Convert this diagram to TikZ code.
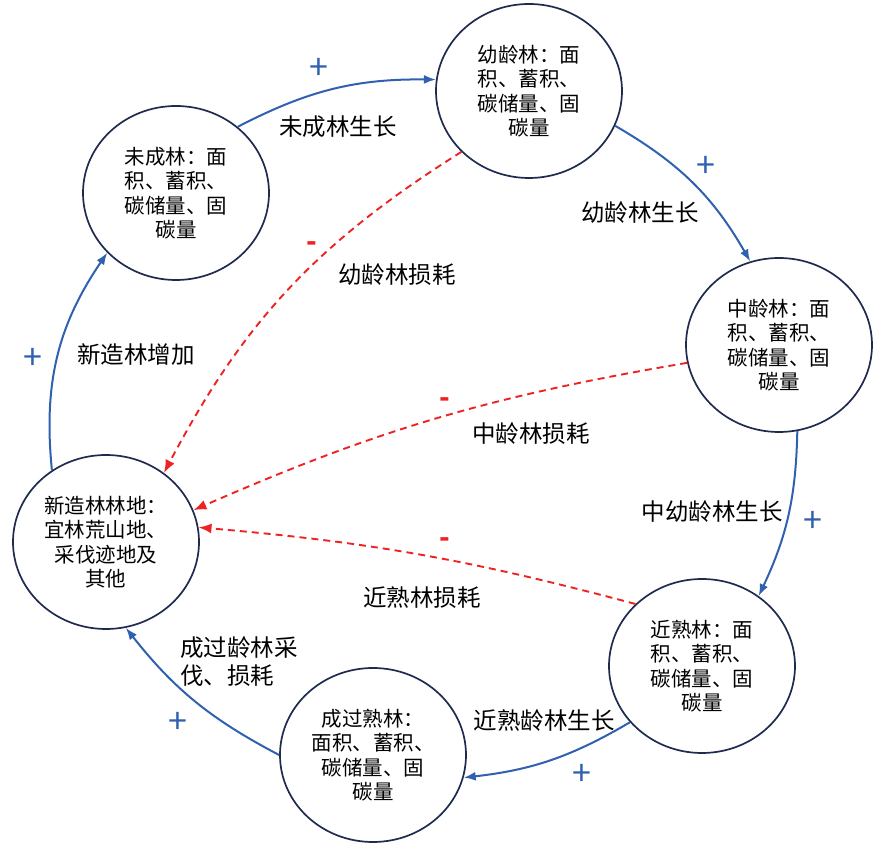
\documentclass[tikz,border=0pt]{standalone}
\usepackage{fontspec}
\setmainfont{Noto Sans CJK SC}
\usetikzlibrary{shapes.geometric,arrows.meta}
\definecolor{navy}{HTML}{1F2A4F}
\definecolor{flowblue}{HTML}{3060B0}
\definecolor{lossred}{HTML}{EE2222}
\begin{document}
\begin{tikzpicture}[x=1pt,y=1pt,
  stock/.style={draw=navy, line width=1.7pt, ellipse, minimum width=186pt, minimum height=174pt, inner sep=0pt, align=center, font=\fontsize{20.5}{24.5}\selectfont},
  flow/.style={draw=flowblue, line width=2pt, -{Latex[length=12pt,width=9pt]}},
  loss/.style={draw=lossred, line width=1.9pt, dash pattern=on 7pt off 5pt, -{Latex[length=13pt,width=10pt]}},
  lbl/.style={font=\fontsize{23.5}{28}\selectfont, text=black, inner sep=0pt},
  plus/.style={font=\fontsize{34}{34}\selectfont, text=flowblue, inner sep=0pt},
  minus/.style={font=\bfseries\fontsize{28}{28}\selectfont, text=lossred, inner sep=0pt}]
\useasboundingbox (0,0) rectangle (879,852);

% stocks
\node[stock] (wc) at (176,659) {未成林：面\\积、蓄积、\\碳储量、固\\碳量};
\node[stock] (yl) at (529,761) {幼龄林：面\\积、蓄积、\\碳储量、固\\碳量};
\node[stock] (zl) at (779,507) {中龄林：面\\积、蓄积、\\碳储量、固\\碳量};
\node[stock] (js) at (702,186) {近熟林：面\\积、蓄积、\\碳储量、固\\碳量};
\node[stock] (cg) at (373,97) {成过熟林：\\面积、蓄积、\\碳储量、固\\碳量};
\node[stock] (xz) at (106,310) {新造林林地：\\宜林荒山地、\\采伐迹地及\\其他};

% growth flows
\draw[flow] (xz.127) to[bend left=20] (wc.221);
\draw[flow] (wc.47) to[bend left=14] (yl.173);
\draw[flow] (yl.-22) to[bend left=15] (zl.109);
\draw[flow] (zl.-78) to[bend left=12] (js.51);
\draw[flow] (js.218) to[bend left=12] (cg.-14);
\draw[flow] (cg.180) to[bend left=12] (xz.-77);

% losses
\draw[loss] (yl.222) to[bend right=15] (xz.50);
\draw[loss] (zl.191) to[bend right=7] (xz.20);
\draw[loss] (js.137) to[bend right=5] (xz.9);

% flow labels
\node[lbl] (l1) at (136,497) {新造林增加};
\node[lbl] (l2) at (338,725) {未成林生长};
\node[lbl] (l3) at (640,639) {幼龄林生长};
\node[lbl] (l4) at (712,340) {中幼龄林生长};
\node[lbl] (l5) at (544,131) {近熟龄林生长};
\node[lbl, align=left, anchor=north west] (l6) at (180,215) {成过龄林采\\伐、损耗};
\node[lbl] (l7) at (397,577) {幼龄林损耗};
\node[lbl] (l8) at (531,418) {中龄林损耗};
\node[lbl] (l9) at (422,254) {近熟林损耗};

% signs
\node[plus] (p1) at (33,493) {+};
\node[plus] (p2) at (319,783) {+};
\node[plus] (p3) at (706,685) {+};
\node[plus] (p4) at (813,330) {+};
\node[plus] (p5) at (582,77) {+};
\node[plus] (p6) at (178,129) {+};
\node[minus] (m1) at (312,605) {-};
\node[minus] (m2) at (445,449) {-};
\node[minus] (m3) at (445,309) {-};
\end{tikzpicture}
\end{document}
